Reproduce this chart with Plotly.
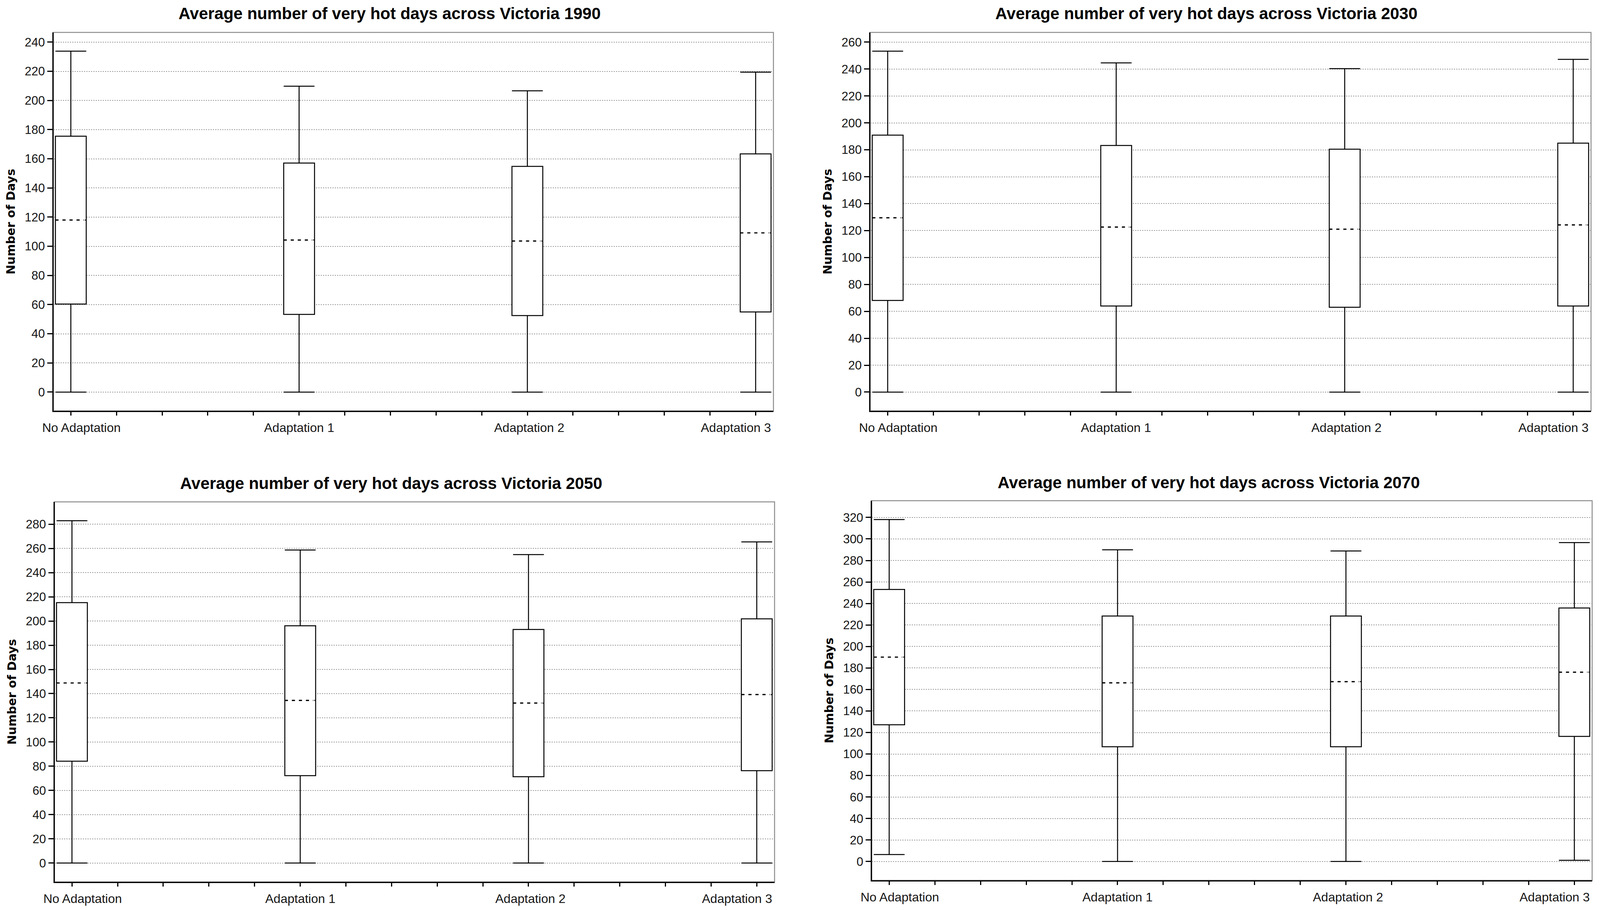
import plotly.graph_objects as go

# ---------------- data ----------------
categories = ["No Adaptation", "Adaptation 1", "Adaptation 2", "Adaptation 3"]
years = ["1990", "2030", "2050", "2070"]

min_1990 = [0, 0, 0, 0]
q1_1990 = [60.4, 53.3, 52.5, 55.0]
median_1990 = [118.0, 104.3, 103.6, 109.2]
q3_1990 = [175.5, 157.1, 154.8, 163.4]
max_1990 = [233.8, 209.8, 206.6, 219.4]

min_2030 = [0, 0, 0, 0]
q1_2030 = [68.1, 64.0, 63.0, 64.0]
median_2030 = [129.5, 122.6, 121.0, 124.2]
q3_2030 = [190.9, 183.2, 180.5, 185.0]
max_2030 = [253.3, 244.6, 240.3, 247.2]

min_2050 = [0, 0, 0, 0]
q1_2050 = [84.2, 72.2, 71.3, 76.3]
median_2050 = [148.8, 134.4, 132.2, 139.2]
q3_2050 = [215.2, 196.1, 193.0, 201.8]
max_2050 = [282.9, 258.7, 254.9, 265.4]

min_2070 = [6.5, 0, 0, 1.1]
q1_2070 = [127.2, 106.7, 106.7, 116.4]
median_2070 = [190.1, 166.2, 167.3, 176.1]
q3_2070 = [253.0, 228.3, 228.3, 235.8]
max_2070 = [318.1, 289.9, 288.8, 296.6]

title_prefix = "Average number of very hot days across Victoria "
y_title = "Number of Days"
y_step = 20

panels_data = [
    (min_1990, q1_1990, median_1990, q3_1990, max_1990),
    (min_2030, q1_2030, median_2030, q3_2030, max_2030),
    (min_2050, q1_2050, median_2050, q3_2050, max_2050),
    (min_2070, q1_2070, median_2070, q3_2070, max_2070),
]

# ---------------- layout / style ----------------
W, H = 4278, 2330
# plot areas in reference pixels: (left, right, top, bottom)
areas = [(143, 2068, 83, 1052), (2327, 4254, 83, 1052),
         (146, 2071, 1285, 2258), (2331, 4257, 1282, 2254)]
title_pos = [(1042, 34), (3226, 34), (1046, 1237), (3232, 1235)]
label_shift = [27, 0, 5, -50]
BOX_W = 0.135
X_RANGE = [-0.076, 3.078]
FONT = "Liberation Sans, Arial, sans-serif"

fig = go.Figure()
layout = dict(
    autosize=True,
    margin=dict(l=0, r=0, t=0, b=0, pad=0),
    paper_bgcolor="white", plot_bgcolor="white",
    showlegend=False,
    annotations=[], shapes=[],
)

positions = list(range(len(categories)))

for i, (lo, q1, med, q3, hi) in enumerate(panels_data):
    n = i + 1
    xa = "x" if n == 1 else f"x{n}"
    ya = "y" if n == 1 else f"y{n}"
    xkey = "xaxis" if n == 1 else f"xaxis{n}"
    ykey = "yaxis" if n == 1 else f"yaxis{n}"

    fig.add_trace(go.Box(
        x=positions, q1=q1, median=med, q3=q3,
        lowerfence=lo, upperfence=hi,
        width=BOX_W, whiskerwidth=1, boxpoints=False,
        fillcolor="white", line=dict(color="black", width=2.5),
        xaxis=xa, yaxis=ya, hoverinfo="skip", showlegend=False,
    ))

    # mask the solid median, then draw the dashed one
    mx, my, dx, dy = [], [], [], []
    for p, m in zip(positions, med):
        mx += [p - BOX_W / 2 + 0.006, p + BOX_W / 2 - 0.006, None]
        my += [m, m, None]
        dx += [p - BOX_W / 2, p + BOX_W / 2 - 0.010, None]
        dy += [m, m, None]
    fig.add_trace(go.Scatter(x=mx, y=my, mode="lines",
                             line=dict(color="white", width=4.5),
                             xaxis=xa, yaxis=ya, hoverinfo="skip", showlegend=False))
    fig.add_trace(go.Scatter(x=dx, y=dy, mode="lines",
                             line=dict(color="black", width=3.2, dash="8px,10px"),
                             xaxis=xa, yaxis=ya, hoverinfo="skip", showlegend=False))

    l, r, t, b = areas[i]
    dmin, dmax = min(lo), max(hi)
    pad = 0.055 * (dmax - dmin)

    layout[xkey] = dict(
        domain=[l / W, r / W], range=X_RANGE, anchor=ya,
        tickmode="array", tickvals=[k / 5 for k in range(16)], ticktext=[""] * 16,
        ticks="outside", ticklen=9, tickwidth=2.5, tickcolor="black",
        showline=True, linecolor="black", linewidth=3,
        showgrid=False, zeroline=False, fixedrange=True,
    )
    layout[ykey] = dict(
        domain=[1 - b / H, 1 - t / H], range=[dmin - pad, dmax + pad], anchor=xa,
        tickmode="linear", tick0=0, dtick=y_step,
        ticks="outside", ticklen=13, tickwidth=2.5, tickcolor="black",
        showline=True, linecolor="black", linewidth=2.5,
        showgrid=True, gridcolor="#9a9a9a", gridwidth=2, griddash="dot",
        zeroline=False, fixedrange=True,
        tickfont=dict(family=FONT, size=31, color="#151515"),
        title=dict(text=y_title, standoff=16,
                   font=dict(family="DejaVu Sans, Verdana, sans-serif", size=30,
                             color="black", weight="bold")),
    )

    layout["shapes"].append(dict(
        type="rect", xref=f"{xa} domain", yref=f"{ya} domain",
        x0=0, x1=1, y0=0, y1=1, layer="below",
        line=dict(color="#8c8c8c", width=2.5), fillcolor="rgba(0,0,0,0)",
    ))

    tx, ty = title_pos[i]
    layout["annotations"].append(dict(
        text=f"<b>{title_prefix}{years[i]}</b>", xref="paper", yref="paper",
        x=tx / W, y=1 - ty / H, xanchor="center", yanchor="middle",
        showarrow=False, font=dict(family=FONT, size=42, color="black"),
    ))

    for j, cat in enumerate(categories):
        layout["annotations"].append(dict(
            text=cat, xref=xa, yref=f"{ya} domain", x=positions[j], y=0,
            xanchor="center", yanchor="middle", yshift=-43, xshift=label_shift[j],
            showarrow=False, font=dict(family=FONT, size=32, color="#151515"),
        ))

fig.update_layout(**layout)

post = """
document.body.style.margin='0px';
document.documentElement.style.overflow='hidden';
var gd = document.getElementById('{plot_id}');
Plotly.Plots.resize(gd);
"""
fig.write_html("out.html", post_script=post, config={"displayModeBar": False})
